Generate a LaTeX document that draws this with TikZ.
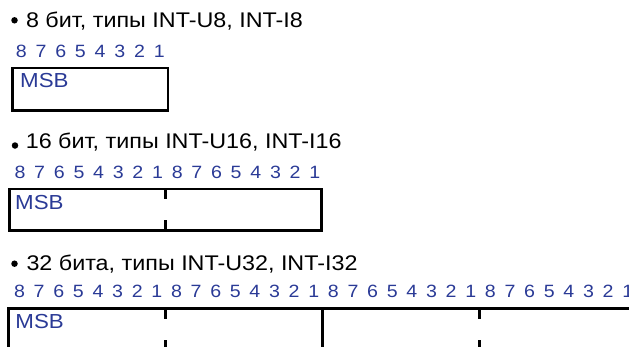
\documentclass[tikz,border=0pt]{standalone}
\usepackage{fontspec}
\setmainfont{Liberation Sans}[FakeStretch=1.1]
\usetikzlibrary{calc}
\definecolor{bitblue}{RGB}{42,58,150}
\begin{document}
\begin{tikzpicture}[x=1pt,y=-1pt,
  title/.style={anchor=base west, inner sep=0pt, font=\fontsize{21.2}{24}\selectfont},
  bit/.style={anchor=base, inner sep=0pt, text=bitblue, font=\fontsize{17.8}{20}\selectfont},
  msb/.style={anchor=base west, inner sep=0pt, text=bitblue, font=\fontsize{20.3}{24}\selectfont},
  frame/.style={draw, line width=2.7pt, rectangle, inner sep=0pt, outer sep=0pt, anchor=north west},
  tick/.style={line width=2.7pt},
  dot/.style={circle, fill, inner sep=0pt, minimum size=6.5pt}]
\useasboundingbox (0,0) rectangle (629,346);

% ---- 8 bit ----
\node[dot] (u1) at (14.5,20.3) {};
\node[title] (t1) at (25.8,27.3) {8 бит, типы INT-U8, INT-I8};
\foreach \k in {0,...,7}{
  \pgfmathtruncatemacro\d{8-mod(\k,8)}
  \node[bit] (ba\k) at (21.3+19.7*\k,57.3) {\d};
}
\node[frame, minimum width=155.5pt, minimum height=42.5pt] (box1) at (12.5,68) {};
\node[msb] (m1) at (20,87.7) {MSB};

% ---- 16 bit ----
\node[dot] (u2) at (15,145.5) {};
\node[title] (t2) at (25.6,148) {16 бит, типы INT-U16, INT-I16};
\foreach \k in {0,...,15}{
  \pgfmathtruncatemacro\d{8-mod(\k,8)}
  \node[bit] (bb\k) at (20+19.65*\k,178.3) {\d};
}
\node[frame, minimum width=312.4pt, minimum height=41.3pt] (box2) at (9.3,189) {};
\draw[tick] (box2.north) -- ++(0,10);
\draw[tick] (box2.south) -- ++(0,-10.3);
\node[msb] (m2) at (15,209.3) {MSB};

% ---- 32 bit ----
\node[dot] (u3) at (14.5,263.7) {};
\node[title] (t3) at (26.3,270.7) {32 бита, типы INT-U32, INT-I32};
\foreach \k in {0,...,31}{
  \pgfmathtruncatemacro\d{8-mod(\k,8)}
  \node[bit] (bc\k) at (19.5+19.62*\k,297.3) {\d};
}
\node[frame, minimum width=628pt, minimum height=42pt] (box3) at (8.3,308.5) {};
\draw[tick] (box3.north) -- (box3.south);
\coordinate (q1n) at ($(box3.north west)!0.25!(box3.north east)$);
\coordinate (q1s) at ($(box3.south west)!0.25!(box3.south east)$);
\coordinate (q3n) at ($(box3.north west)!0.75!(box3.north east)$);
\coordinate (q3s) at ($(box3.south west)!0.75!(box3.south east)$);
\draw[tick] (q1n) -- ++(0,10);
\draw[tick] (q1s) -- ++(0,-10.5);
\draw[tick] (q3n) -- ++(0,10);
\draw[tick] (q3s) -- ++(0,-10.5);
\node[msb] (m3) at (15.3,328) {MSB};
\end{tikzpicture}
\end{document}
